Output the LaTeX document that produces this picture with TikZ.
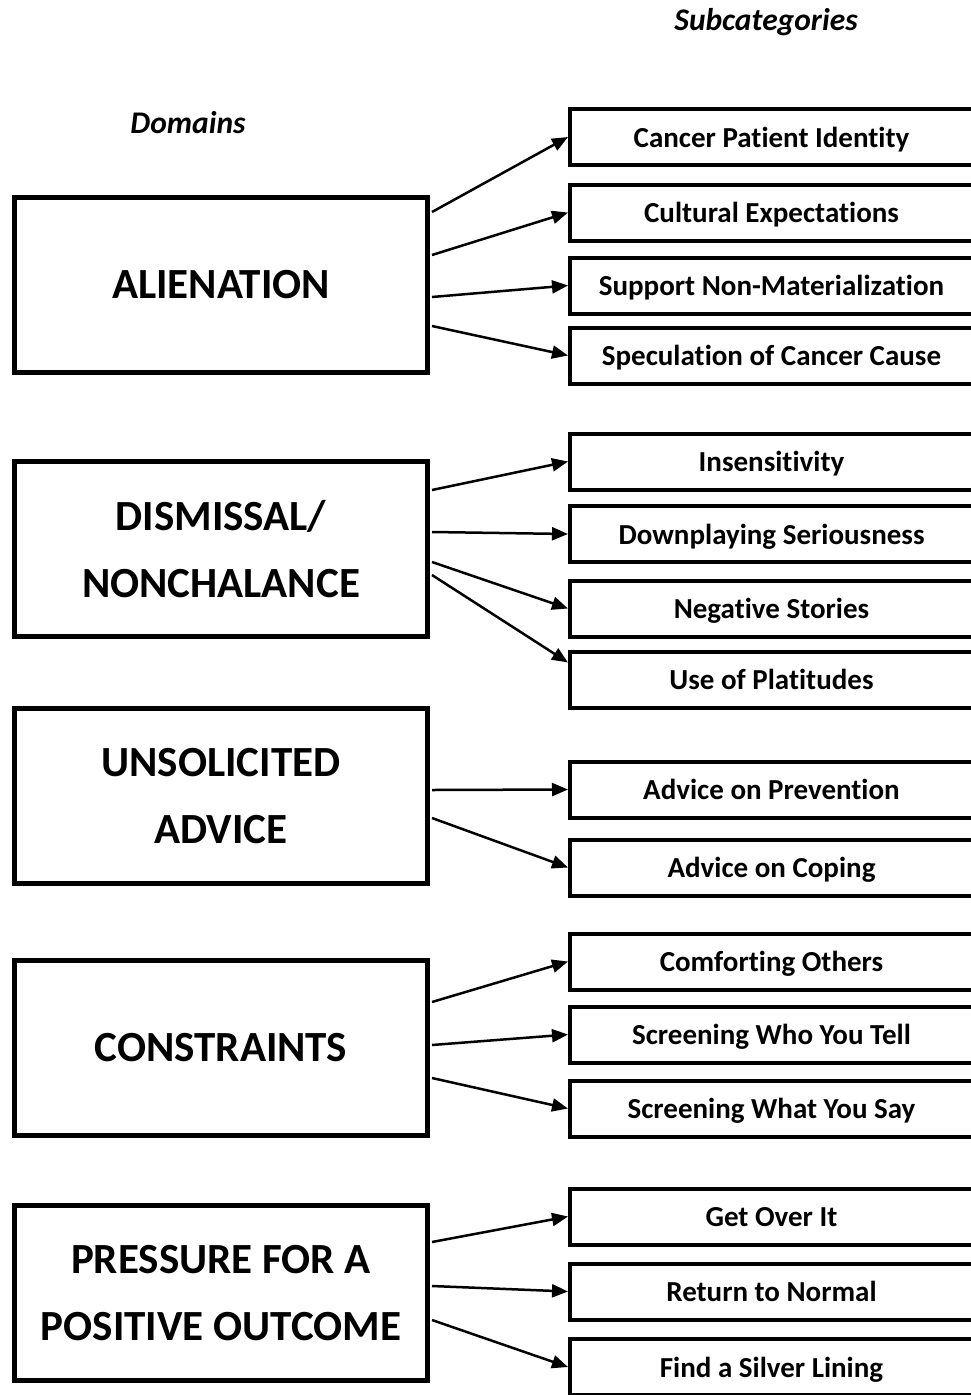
\documentclass[tikz,border=0pt]{standalone}
\usepackage{fontspec}
\setmainfont{Carlito}[Ligatures={NoCommon}]
\usetikzlibrary{arrows.meta,calc}
\begin{document}
\begin{tikzpicture}[x=1pt,y=-1pt,
  dombox/.style={draw,line width=5pt,minimum width=413pt,minimum height=175pt,align=center,
    font=\fontsize{43}{67}\selectfont\bfseries,inner sep=0pt},
  subbox/.style={draw,line width=4pt,minimum width=403pt,minimum height=56pt,
    font=\fontsize{29}{32}\selectfont\bfseries,inner sep=0pt,text height=20pt,text depth=0pt},
  arr/.style={line width=2.5pt,-{Triangle[length=16pt,width=13pt]}},
  headtxt/.style={font=\fontsize{31.5}{36}\selectfont\bfseries\itshape}]
\useasboundingbox (0,0) rectangle (971,1395);
\begin{scope}
\clip (0,0) rectangle (971,1395);
\node[headtxt] (hs) at (766,22) {Subcategories};
\node[headtxt] (hd) at (188,123) {Domains};

\node[dombox] (A) at (221,285) {ALIENATION};
\node[dombox] (D) at (221,549) {DISMISSAL/\\NONCHALANCE};
\node[dombox] (U) at (221,796) {UNSOLICITED\\ADVICE};
\node[dombox] (C) at (221,1048) {CONSTRAINTS};
\node[dombox] (P) at (221,1293) {PRESSURE FOR A\\POSITIVE OUTCOME};

\node[subbox] (a1) at (771.5,137) {Cancer Patient Identity};
\node[subbox] (a2) at (771.5,212.5) {Cultural Expectations};
\node[subbox] (a3) at (771.5,285.5) {Support Non-Materialization};
\node[subbox] (a4) at (771.5,355.5) {Speculation of Cancer Cause};
\node[subbox] (d1) at (771.5,461.5) {Insensitivity};
\node[subbox] (d2) at (771.5,534) {Downplaying Seriousness};
\node[subbox] (d3) at (771.5,608.5) {Negative Stories};
\node[subbox] (d4) at (771.5,679.5) {Use of Platitudes};
\node[subbox] (u1) at (771.5,789.5) {Advice on Prevention};
\node[subbox] (u2) at (771.5,867.5) {Advice on Coping};
\node[subbox] (c1) at (771.5,961.5) {Comforting Others};
\node[subbox] (c2) at (771.5,1034.5) {Screening Who You Tell};
\node[subbox] (c3) at (771.5,1108.5) {Screening What You Say};
\node[subbox] (p1) at (771.5,1216.5) {Get Over It};
\node[subbox] (p2) at (771.5,1291.5) {Return to Normal};
\node[subbox] (p3) at (771.5,1367) {Find a Silver Lining};

\draw[arr] ($(A.east)+(2,-73)$) -- (a1.west);
\draw[arr] ($(A.east)+(2,-30)$) -- (a2.west);
\draw[arr] ($(A.east)+(2,12)$) -- (a3.west);
\draw[arr] ($(A.east)+(2,41)$) -- (a4.west);

\draw[arr] ($(D.east)+(2,-59)$) -- (d1.west);
\draw[arr] ($(D.east)+(2,-17)$) -- (d2.west);
\draw[arr] ($(D.east)+(2,13)$) -- (d3.west);
\draw[arr] ($(D.east)+(2,26)$) -- ($(d4.west)+(0,-17)$);

\draw[arr] ($(U.east)+(2,-6)$) -- (u1.west);
\draw[arr] ($(U.east)+(2,22)$) -- (u2.west);

\draw[arr] ($(C.east)+(2,-46)$) -- (c1.west);
\draw[arr] ($(C.east)+(2,-3)$) -- (c2.west);
\draw[arr] ($(C.east)+(2,30)$) -- (c3.west);

\draw[arr] ($(P.east)+(2,-51)$) -- (p1.west);
\draw[arr] ($(P.east)+(2,-7)$) -- (p2.west);
\draw[arr] ($(P.east)+(2,27)$) -- (p3.west);
\end{scope}
\end{tikzpicture}
\end{document}
